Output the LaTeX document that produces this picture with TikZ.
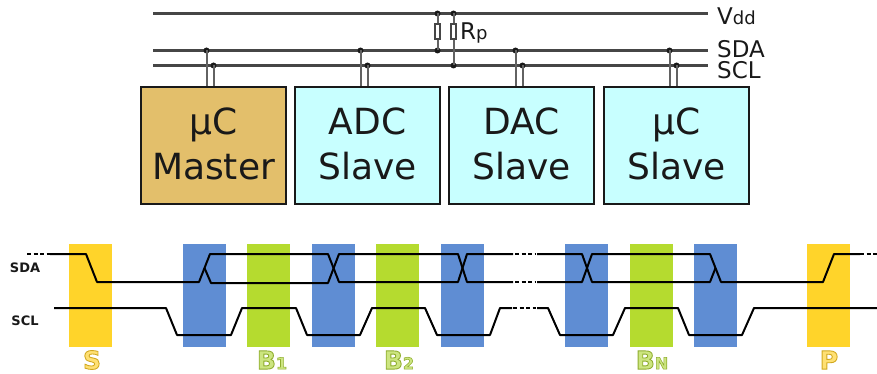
\documentclass[tikz,border=0pt]{standalone}
\usepackage{fontspec}
\setmainfont{DejaVu Sans}
\newfontfamily\tagfont[BoldFeatures={FakeBold=3.5}]{DejaVu Sans}
\usetikzlibrary{positioning}
\definecolor{masterfill}{RGB}{227,191,107}
\definecolor{slavefill}{RGB}{200,255,255}
\definecolor{startcol}{RGB}{255,212,42}
\definecolor{ackcol}{RGB}{95,141,211}
\definecolor{bytecol}{RGB}{181,219,47}
\definecolor{buscol}{RGB}{70,70,70}
\newcommand{\starttag}[1]{\special{pdf:bcolor [1 .88 .45] [.82 .66 .12]}#1\special{pdf:ecolor}}
\newcommand{\bytetag}[1]{\special{pdf:bcolor [.8 .9 .5] [.56 .68 .18]}#1\special{pdf:ecolor}}
\newcommand{\chiplines}[2]{\raisebox{3pt}{#1}\\\raisebox{3pt}{#2}}

\begin{document}
\begin{tikzpicture}[
    x=1pt,y=-1pt,
    chip/.style={draw=black!90,line width=1.8pt,align=center,inner sep=0pt,
                 minimum width=145pt,minimum height=117pt,
                 font=\fontsize{36}{45}\selectfont,text=black!90},
    bus/.style={draw=buscol,line width=2.2pt},
    tap/.style={draw=buscol!85,line width=2pt},
    dot/.style={circle,fill=black!90,inner sep=0pt,minimum size=6pt},
    res/.style={draw=buscol,fill=white,line width=1.1pt,inner sep=0pt,
                minimum width=5pt,minimum height=15pt},
    railname/.style={anchor=west,inner sep=0pt,font=\fontsize{23}{23}\selectfont,text=black!90},
    bar/.style={inner sep=0pt,minimum width=43pt,minimum height=103pt},
    sig/.style={draw=black,line width=2pt,line join=round},
    gap/.style={draw=black,line width=2pt,dash pattern=on 4pt off 2.5pt},
    signame/.style={inner sep=0pt,font=\fontsize{13}{14}\bfseries\selectfont,text=black!90},
    tag/.style={inner sep=0pt,font=\tagfont\fontsize{25}{25}\bfseries\selectfont}
  ]
  \useasboundingbox (0,0) rectangle (877,374);

  % boxes
  \node[chip,fill=masterfill] (master) at (213.5,145.5) {\chiplines{µC}{Master}};
  \node[chip,fill=slavefill,right=7.2pt of master] (adc) {\chiplines{ADC}{Slave}};
  \node[chip,fill=slavefill,right=7.2pt of adc] (dac) {\chiplines{DAC}{Slave}};
  \node[chip,fill=slavefill,right=8.2pt of dac] (uc) {\chiplines{µC}{Slave}};

  % rails
  \coordinate (vddl) at (153,13.5);
  \coordinate (sdal) at (153,50.5);
  \coordinate (scll) at (153,65.5);
  \node[railname] (vdd) at (717,16) {V{\fontsize{18}{18}\selectfont dd}};
  \node[railname] (sda) at (717,49) {SDA};
  \node[railname] (scl) at (717,70) {SCL};
  \draw[bus] (vddl) -- (708,13.5);
  \draw[bus] (sdal) -- (708,50.5);
  \draw[bus] (scll) -- (708,65.5);

  % taps
  \node[dot] (m1) at (206.5,50.5) {};
  \node[dot] (m2) at (213.5,65.5) {};
  \node[dot] (a1) at (360.5,50.5) {};
  \node[dot] (a2) at (367.5,65.5) {};
  \node[dot] (d1) at (515.5,50.5) {};
  \node[dot] (d2) at (522.5,65.5) {};
  \node[dot] (u1) at (669.5,50.5) {};
  \node[dot] (u2) at (676.5,65.5) {};
  \foreach \t/\b in {m1/master,m2/master,a1/adc,a2/adc,d1/dac,d2/dac,u1/uc,u2/uc}
    \draw[tap] (\t.center) -- (\t.center |- \b.north);

  % pull-ups
  \node[dot] (v1) at (437.5,13.5) {};
  \node[dot] (v2) at (453.5,13.5) {};
  \node[dot] (p1) at (437.5,50.5) {};
  \node[dot] (p2) at (453.5,65.5) {};
  \draw[tap] (v1.center) -- (p1.center);
  \draw[tap] (v2.center) -- (p2.center);
  \node[res] (r1) at (437.5,31.5) {};
  \node[res] (r2) at (453.5,31.5) {};
  \node[anchor=west,inner sep=0pt,font=\fontsize{23}{23}\selectfont,text=black!90] (rp) at (460,33) {R{\fontsize{18}{18}\selectfont p}};

  % bit windows
  \node[bar,fill=startcol] (s) at (90.5,295) {};
  \node[bar,fill=ackcol] (k0) at (204.5,295) {};
  \node[bar,fill=bytecol] (b1) at (268.5,295) {};
  \node[bar,fill=ackcol] (k1) at (333.5,295) {};
  \node[bar,fill=bytecol] (b2) at (397.5,295) {};
  \node[bar,fill=ackcol] (k2) at (462.5,295) {};
  \node[bar,fill=ackcol] (k3) at (586,295) {};
  \node[bar,fill=bytecol] (bn) at (651,295) {};
  \node[bar,fill=ackcol] (k4) at (715.5,295) {};
  \node[bar,fill=startcol] (p) at (828.5,295) {};

  % sda
  \draw[gap] (27,254) -- (50,254);
  \draw[sig] (50,254) -- (86,254) -- (97,282) -- (199,282) -- (210,254) -- (328,254)
    -- (339,282) -- (458,282) -- (467,254) -- (513,254);
  \draw[sig] (204.5,268) -- (211,283) -- (328,283) -- (339,254) -- (458,254) -- (467,282) -- (513,282);
  \draw[gap] (515,254) -- (536,254);
  \draw[gap] (515,282) -- (536,282);
  \draw[sig] (537,254) -- (582,254) -- (592,282) -- (710,282) -- (715.5,268);
  \draw[sig] (537,282) -- (582,282) -- (592,254) -- (710,254) -- (721,282) -- (823,282)
    -- (834,254) -- (860,254);
  \draw[gap] (860,254) -- (877,254);

  % scl
  \draw[sig] (54,308) -- (166,308) -- (177,335) -- (231,335) -- (242,308) -- (296,308)
    -- (307,335) -- (360,335) -- (372,308) -- (425,308) -- (437,335) -- (490,335)
    -- (500,308) -- (512,308);
  \draw[gap] (513,308) -- (536,308);
  \draw[sig] (537,308) -- (548,308) -- (560,335) -- (613,335) -- (625,308) -- (678,308)
    -- (689,335) -- (742,335) -- (754,308) -- (877,308);

  % names
  \node[signame] (sdaname) at (25,268) {SDA};
  \node[signame] (sclname) at (25,321) {SCL};
  \node[tag] (stag) at (92,360) {\starttag{S}};
  \node[tag] (b1tag) at (272,360) {\bytetag{B{\fontsize{16}{16}\selectfont 1}}};
  \node[tag] (b2tag) at (399,360) {\bytetag{B{\fontsize{16}{16}\selectfont 2}}};
  \node[tag] (bntag) at (652,360) {\bytetag{B{\fontsize{16}{16}\selectfont N}}};
  \node[tag] (ptag) at (829,360) {\starttag{P}};
\end{tikzpicture}
\end{document}
